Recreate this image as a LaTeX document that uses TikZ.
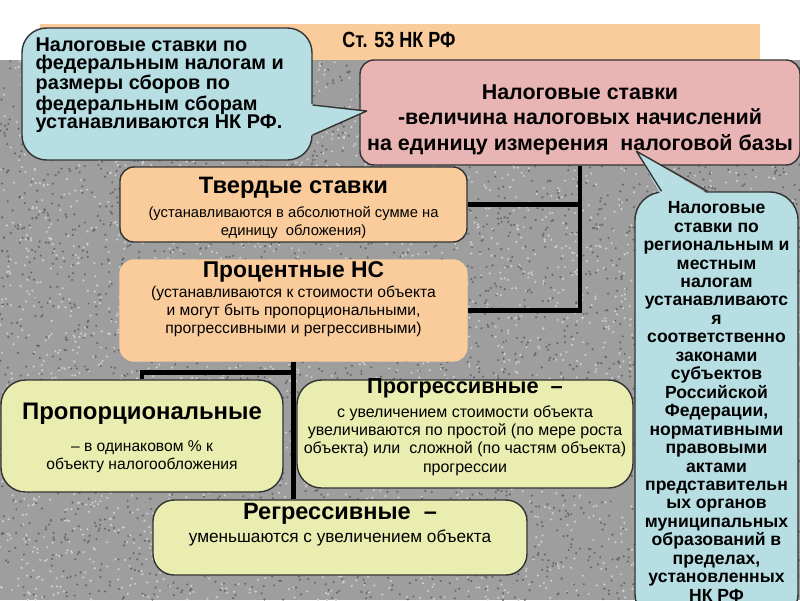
\documentclass[tikz,border=0pt]{standalone}
\usepackage{fontspec}
\setmainfont{Liberation Sans}
\newfontfamily\narrowfont[FakeStretch=0.82]{Liberation Sans}
\usetikzlibrary{positioning,calc}
\definecolor{peach}{RGB}{250,204,156}
\definecolor{rosy}{RGB}{233,180,180}
\definecolor{paleblue}{RGB}{183,222,226}
\definecolor{lime}{RGB}{233,238,176}
\definecolor{granite}{RGB}{158,158,158}
\definecolor{speckdark}{RGB}{105,105,105}
\definecolor{specklight}{RGB}{205,205,205}
\pgfdeclarelayer{back}
\pgfdeclarelayer{lines}
\pgfsetlayers{back,lines,main}

\begin{document}
\begin{tikzpicture}[x=0.02cm,y=-0.02cm,
    box/.style={draw=black!80,line width=0.8pt,rounded corners=8pt,inner sep=0pt},
    sized/.style 2 args={minimum width=#1*0.02cm,minimum height=#2*0.02cm},
    txt/.style={inner sep=0pt,align=center,anchor=north},
    small/.style={font=\fontsize{8.4}{10.2}\selectfont},
    conn/.style={line width=2.8pt,draw=black},
    rim/.style={draw=black!80,line width=0.8pt,line join=round}]

    \useasboundingbox (0,0) rectangle (800,600);
    \clip (0,0) rectangle (800,600);

    % granite background
    \begin{pgfonlayer}{back}
        \fill[white] (0,0) rectangle (800,600);
        \fill[granite] (0,60) rectangle (800,600);
        \pgfmathsetseed{17}
        \foreach \i in {1,...,3500}{
            \fill[speckdark] ({rnd*800},{60+rnd*540}) circle (1.2);
            \fill[specklight] ({rnd*800},{60+rnd*540}) circle (1.2);
        }
    \end{pgfonlayer}

    % header
    \node[fill=peach,sized={720}{36},inner sep=0pt] (bar) at (400,42) {};
    \node[inner sep=0pt,font=\narrowfont\bfseries\fontsize{12.5}{14}\selectfont] (bar-t) at (399,40) {Ст. 53 НК РФ};

    % main definition
    \node[box,fill=rosy,sized={440}{105}] (rate) at (580,112.5) {};
    \node[txt,font=\bfseries\fontsize{12.2}{14.5}\selectfont] (rate-t) at ([shift={(0,25)}]rate.north)
        {Налоговые ставки\\-величина налоговых начислений\\на единицу измерения~~налоговой базы};

    % federal callout
    \node[box,fill=paleblue,sized={290}{132},rounded corners=14pt] (fed) at (167,94) {};
    \fill[paleblue] ([shift={(-3,10)}]fed.east) -- ([shift={(54,17)}]fed.east) -- ([shift={(-3,42)}]fed.east) -- cycle;
    \draw[rim] ([shift={(0,11)}]fed.east) -- ([shift={(54,17)}]fed.east) -- ([shift={(0,41)}]fed.east);
    \node[txt,anchor=north west,align=left,font=\bfseries\fontsize{11.3}{10.3}\selectfont] (fed-t) at ([shift={(14,10)}]fed.north west)
        {Налоговые ставки по\\федеральным налогам и\\размеры сборов по\\федеральным сборам\\устанавливаются НК РФ.};

    % kinds of rates
    \node[box,fill=peach,sized={347}{75}] (fixed) at (293.5,204.5) {};
    \node[txt,small] (fixed-t) at ([shift={(0,11)}]fixed.north)
        {{\bfseries\fontsize{13.5}{15}\selectfont Твердые ставки}\\[3pt](устанавливаются в абсолютной сумме на\\единицу~~обложения)};

    \node[box,draw=peach,fill=peach,sized={347}{101}] (pct) at (293.5,310.5) {};
    \node[txt,font=\fontsize{8.9}{10.2}\selectfont] (pct-t) at ([shift={(0,2)}]pct.north)
        {{\bfseries\fontsize{13}{14}\selectfont Процентные НС}\\[1pt](устанавливаются к стоимости объекта\\и могут быть пропорциональными,\\прогрессивными и регрессивными)};

    \node[box,fill=lime,sized={282}{112},rounded corners=14pt] (prop) at (142,436) {};
    \node[txt,font=\fontsize{8.9}{10.3}\selectfont] (prop-t) at ([shift={(0,23)}]prop.north)
        {{\bfseries\fontsize{13.6}{15}\selectfont Пропорциональные}\\[8pt]– в одинаковом \% к\\объекту налогообложения};

    \node[box,fill=lime,sized={336}{108},rounded corners=14pt] (prog) at (465,434) {};
    \node[txt,font=\fontsize{9.1}{10.4}\selectfont] (prog-t) at ([shift={(0,-1)}]prog.north)
        {{\bfseries\fontsize{12.4}{13}\selectfont Прогрессивные~~–}\\[3pt]с увеличением стоимости объекта\\увеличиваются по простой (по мере роста\\объекта) или~~сложной (по частям объекта)\\прогрессии};

    \node[box,fill=lime,sized={374}{75},rounded corners=12pt] (reg) at (340,537.5) {};
    \node[txt,font=\fontsize{9.8}{11}\selectfont] (reg-t) at ([shift={(0,4)}]reg.north)
        {{\bfseries\fontsize{13.4}{14}\selectfont Регрессивные~~–}\\[2pt]уменьшаются с увеличением объекта};

    % regional callout
    \node[box,fill=paleblue,sized={163}{430},rounded corners=16pt] (loc) at (716.5,407) {};
    \fill[paleblue] ([shift={(-56,3)}]loc.north) -- ([shift={(-80,-40)}]loc.north) -- ([shift={(-8,3)}]loc.north) -- cycle;
    \draw[rim] ([shift={(-55,0)}]loc.north) -- ([shift={(-80,-40)}]loc.north) -- ([shift={(-9,0)}]loc.north);
    \node[txt,font=\bfseries\fontsize{10}{10.5}\selectfont] (loc-t) at ([shift={(0,10)}]loc.north)
        {Налоговые\\ставки по\\региональным и\\местным\\налогам\\устанавливаютс\\я\\соответственно\\законами\\субъектов\\Российской\\Федерации,\\нормативными\\правовыми\\актами\\представительн\\ых органов\\муниципальных\\образований в\\пределах,\\установленных\\НК РФ};

    % tree lines
    \begin{pgfonlayer}{lines}
        \draw[conn] (rate.south) |- (fixed.east);
        \draw[conn] (rate.south) |- (pct.east);
        \draw[conn] (pct.south) -- ++(0,11) -| (prop.north);
        \draw[conn] (pct.south) -- (pct.south |- reg.north);
    \end{pgfonlayer}

\end{tikzpicture}
\end{document}
